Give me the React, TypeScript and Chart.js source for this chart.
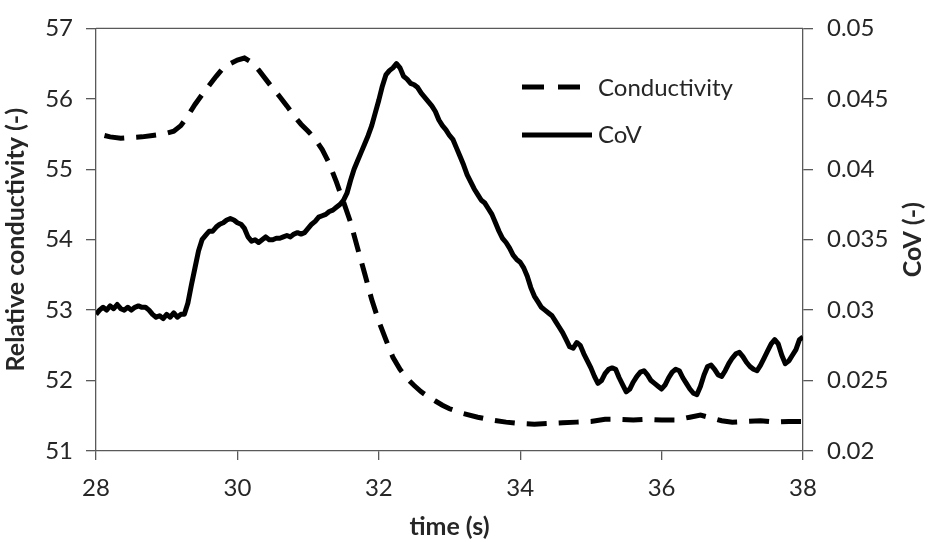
import React, { useEffect, useRef } from 'react';
import { Chart, registerables } from 'chart.js';

Chart.register(...registerables);

const xTicks = [28, 30, 32, 34, 36, 38];
const leftTicks = [51, 52, 53, 54, 55, 56, 57];
const rightTicks = [0.02, 0.025, 0.03, 0.035, 0.04, 0.045, 0.05];
const seriesNames = ['Conductivity', 'CoV'];

const condTime = [
  28.12, 28.2, 28.35, 28.5, 28.65, 28.8, 28.95, 29.1, 29.2, 29.3, 29.4, 29.5, 29.6, 29.7, 29.8, 29.9,
  30.0, 30.1, 30.2, 30.3, 30.4, 30.5, 30.6, 30.7, 30.8, 30.9, 31.0, 31.1, 31.2, 31.3, 31.4, 31.5,
  31.6, 31.7, 31.8, 31.9, 32.0, 32.1, 32.2, 32.3, 32.4, 32.5, 32.6, 32.7, 32.8, 32.9, 33.0, 33.2,
  33.4, 33.6, 33.8, 34.0, 34.2, 34.4, 34.6, 34.8, 35.0, 35.2, 35.4, 35.6, 35.8, 36.0, 36.2, 36.4,
  36.55, 36.7, 36.85, 37.0, 37.2, 37.4, 37.6, 37.8, 38.0,
];
const condValues = [
  55.48, 55.46, 55.44, 55.45, 55.46, 55.48, 55.5, 55.54, 55.62, 55.76, 55.92, 56.06, 56.19, 56.32, 56.44, 56.5,
  56.55, 56.58, 56.52, 56.41, 56.28, 56.15, 56.03, 55.9, 55.76, 55.64, 55.54, 55.43, 55.28, 55.08, 54.82, 54.54,
  54.25, 53.88, 53.52, 53.15, 52.84, 52.58, 52.33, 52.16, 52.03, 51.93, 51.84, 51.77, 51.71, 51.65, 51.6, 51.53,
  51.48, 51.44, 51.41, 51.39, 51.38, 51.39, 51.4, 51.41, 51.42, 51.45, 51.45, 51.44, 51.45, 51.44, 51.44, 51.48,
  51.51, 51.47, 51.43, 51.41, 51.42, 51.43, 51.41, 51.42, 51.42,
];

const covTime = [
  28.0, 28.05, 28.1, 28.15, 28.2, 28.25, 28.3, 28.35, 28.4, 28.45, 28.5, 28.55, 28.6, 28.65, 28.7, 28.75,
  28.8, 28.85, 28.9, 28.95, 29.0, 29.05, 29.1, 29.15, 29.2, 29.25, 29.3, 29.35, 29.4, 29.45, 29.5, 29.55,
  29.6, 29.65, 29.7, 29.75, 29.8, 29.85, 29.9, 29.95, 30.0, 30.05, 30.1, 30.15, 30.2, 30.25, 30.3, 30.35,
  30.4, 30.45, 30.5, 30.55, 30.6, 30.65, 30.7, 30.75, 30.8, 30.85, 30.9, 30.95, 31.0, 31.05, 31.1, 31.15,
  31.2, 31.25, 31.3, 31.35, 31.4, 31.45, 31.5, 31.55, 31.6, 31.65, 31.7, 31.75, 31.8, 31.85, 31.9, 31.95,
  32.0, 32.05, 32.1, 32.15, 32.2, 32.25, 32.3, 32.35, 32.4, 32.45, 32.5, 32.55, 32.6, 32.65, 32.7, 32.75,
  32.8, 32.85, 32.9, 32.95, 33.0, 33.05, 33.1, 33.15, 33.2, 33.25, 33.3, 33.35, 33.4, 33.45, 33.5, 33.55,
  33.6, 33.65, 33.7, 33.75, 33.8, 33.85, 33.9, 33.95, 34.0, 34.05, 34.1, 34.15, 34.2, 34.25, 34.3, 34.35,
  34.4, 34.45, 34.5, 34.55, 34.6, 34.65, 34.7, 34.75, 34.8, 34.85, 34.9, 34.95, 35.0, 35.05, 35.1, 35.15,
  35.2, 35.25, 35.3, 35.35, 35.4, 35.45, 35.5, 35.55, 35.6, 35.65, 35.7, 35.75, 35.8, 35.85, 35.9, 35.95,
  36.0, 36.05, 36.1, 36.15, 36.2, 36.25, 36.3, 36.35, 36.4, 36.45, 36.5, 36.55, 36.6, 36.65, 36.7, 36.75,
  36.8, 36.85, 36.9, 36.95, 37.0, 37.05, 37.1, 37.15, 37.2, 37.25, 37.3, 37.35, 37.4, 37.45, 37.5, 37.55,
  37.6, 37.65, 37.7, 37.75, 37.8, 37.85, 37.9, 37.95, 38.0,
];
const covValues = [
  0.0297, 0.03, 0.0302, 0.03, 0.0303, 0.0301, 0.0304, 0.0301, 0.03, 0.0302, 0.03, 0.0302, 0.0303, 0.0302, 0.0302, 0.03,
  0.0297, 0.0295, 0.0296, 0.0294, 0.0297, 0.0295, 0.0298, 0.0295, 0.0297, 0.0297, 0.0305, 0.0318, 0.033, 0.0342, 0.035, 0.0353,
  0.0356, 0.0356, 0.0359, 0.0361, 0.0362, 0.0364, 0.0365, 0.0364, 0.0362, 0.0361, 0.0358, 0.0352, 0.0349, 0.035, 0.0348, 0.035,
  0.0352, 0.035, 0.035, 0.0351, 0.0351, 0.0352, 0.0353, 0.0352, 0.0354, 0.0355, 0.0354, 0.0355, 0.0358, 0.0361, 0.0363, 0.0366,
  0.0367, 0.0368, 0.037, 0.0371, 0.0373, 0.0375, 0.0378, 0.0383, 0.0392, 0.04, 0.0406, 0.0412, 0.0418, 0.0424, 0.0431, 0.044,
  0.0449, 0.0459, 0.0467, 0.047, 0.0472, 0.0475, 0.0472, 0.0466, 0.0464, 0.0461, 0.046, 0.0458, 0.0454, 0.0451, 0.0448, 0.0445,
  0.0441, 0.0435, 0.0431, 0.0428, 0.0424, 0.0421, 0.0415, 0.0409, 0.0403, 0.0396, 0.0391, 0.0386, 0.0382, 0.0378, 0.0376, 0.0372,
  0.0368, 0.0362, 0.0356, 0.0351, 0.0348, 0.0344, 0.0339, 0.0336, 0.0334, 0.033, 0.0324, 0.0316, 0.031, 0.0306, 0.0302, 0.03,
  0.0298, 0.0296, 0.0292, 0.0288, 0.0284, 0.0279, 0.0274, 0.0273, 0.0277, 0.0275, 0.0269, 0.0264, 0.0259, 0.0253, 0.0248, 0.025,
  0.0255, 0.0258, 0.0259, 0.0258, 0.0252, 0.0247, 0.0242, 0.0244, 0.0249, 0.0253, 0.0256, 0.0257, 0.0254, 0.025, 0.0248, 0.0246,
  0.0244, 0.0247, 0.0252, 0.0256, 0.0258, 0.0257, 0.0252, 0.0248, 0.0244, 0.0241, 0.024, 0.0246, 0.0254, 0.026, 0.0261, 0.0258,
  0.0254, 0.0253, 0.0257, 0.0262, 0.0266, 0.0269, 0.027, 0.0267, 0.0263, 0.026, 0.0258, 0.0257, 0.0261, 0.0266, 0.0271, 0.0276,
  0.0279, 0.0276, 0.0268, 0.0262, 0.0264, 0.0268, 0.0272, 0.0279, 0.0281,
];

const FONT = 'Lato, "Open Sans", sans-serif';
const AXIS = '#595959';
const TEXT = '#262626';
const DASH = [20, 12];
const TICK_SIZE = 24;
const TITLE_SIZE = 25;

const framePlugin = {
  id: 'frame',
  afterDraw(chart: any) {
    const { ctx, chartArea } = chart;
    ctx.save();
    ctx.strokeStyle = AXIS;
    ctx.lineWidth = 1.3;
    ctx.beginPath();
    ctx.moveTo(chartArea.left, chartArea.top);
    ctx.lineTo(chartArea.right, chartArea.top);
    ctx.stroke();

    // right axis title, reading bottom-to-top
    ctx.fillStyle = TEXT;
    ctx.font = `bold ${TITLE_SIZE}px ${FONT}`;
    ctx.textAlign = 'center';
    ctx.textBaseline = 'middle';
    ctx.translate(913, (chartArea.top + chartArea.bottom) / 2);
    ctx.rotate(-Math.PI / 2);
    ctx.fillText('CoV (-)', 0, 0);
    ctx.restore();

    // legend
    ctx.save();
    ctx.strokeStyle = '#000';
    ctx.lineWidth = 5;
    ctx.lineCap = 'butt';
    ctx.setLineDash([22, 14]);
    ctx.beginPath();
    ctx.moveTo(522, 87);
    ctx.lineTo(580, 87);
    ctx.stroke();
    ctx.setLineDash([]);
    ctx.beginPath();
    ctx.moveTo(522, 135);
    ctx.lineTo(592, 135);
    ctx.stroke();
    ctx.fillStyle = TEXT;
    ctx.font = `${TICK_SIZE}px ${FONT}`;
    ctx.textAlign = 'left';
    ctx.textBaseline = 'middle';
    ctx.fillText(seriesNames[0], 598, 88);
    ctx.fillText(seriesNames[1], 598, 135);
    ctx.restore();
  },
};

export default function App() {
  const ref = useRef<HTMLCanvasElement>(null);
  useEffect(() => {
    document.body.style.margin = '0';
    const chart = new Chart(ref.current as HTMLCanvasElement, {
      type: 'line',
      data: {
        datasets: [
          {
            label: seriesNames[0],
            data: condTime.map((t, i) => ({ x: t, y: condValues[i] })),
            yAxisID: 'y',
            borderColor: '#000',
            borderWidth: 5,
            borderDash: DASH,
            pointRadius: 0,
            tension: 0,
            fill: false,
          },
          {
            label: seriesNames[1],
            data: covTime.map((t, i) => ({ x: t, y: covValues[i] })),
            yAxisID: 'y1',
            borderColor: '#000',
            borderWidth: 5,
            pointRadius: 0,
            tension: 0,
            fill: false,
            borderJoinStyle: 'round',
          },
        ],
      },
      options: {
        animation: false,
        responsive: false,
        layout: { padding: { top: 19, left: 0, right: 0, bottom: 0 } },
        plugins: { legend: { display: false }, tooltip: { enabled: false } },
        scales: {
          x: {
            type: 'linear',
            min: 28,
            max: 38,
            afterBuildTicks: (s: any) => {
              s.ticks = xTicks.map((v) => ({ value: v }));
            },
            afterFit: (s: any) => {
              s.height = 91;
            },
            grid: { drawOnChartArea: false, tickLength: 9, color: AXIS, lineWidth: 1.3 },
            border: { color: AXIS, width: 1.3 },
            ticks: { font: { family: FONT, size: TICK_SIZE }, color: TEXT, padding: 14, maxRotation: 0 },
            title: {
              display: true,
              text: 'time (s)',
              font: { family: FONT, size: TITLE_SIZE, weight: 'bold' },
              color: TEXT,
              padding: { top: 0, bottom: 0 },
            },
          },
          y: {
            type: 'linear',
            position: 'left',
            min: 51,
            max: 57,
            afterBuildTicks: (s: any) => {
              s.ticks = leftTicks.map((v) => ({ value: v }));
            },
            afterFit: (s: any) => {
              s.width = 96;
            },
            grid: { drawOnChartArea: false, tickLength: 10, color: AXIS, lineWidth: 1.3 },
            border: { color: AXIS, width: 1.3 },
            ticks: { font: { family: FONT, size: TICK_SIZE }, color: TEXT, padding: 13 },
            title: {
              display: true,
              text: 'Relative conductivity (-)',
              font: { family: FONT, size: TITLE_SIZE, weight: 'bold' },
              color: TEXT,
              padding: { top: 1, bottom: 0 },
            },
          },
          y1: {
            type: 'linear',
            position: 'right',
            min: 0.02,
            max: 0.05,
            afterBuildTicks: (s: any) => {
              s.ticks = rightTicks.map((v) => ({ value: v }));
            },
            afterFit: (s: any) => {
              s.width = 126;
            },
            grid: { drawOnChartArea: false, tickLength: 10, color: AXIS, lineWidth: 1.3 },
            border: { color: AXIS, width: 1.3 },
            ticks: {
              font: { family: FONT, size: TICK_SIZE },
              color: TEXT,
              padding: 14,
              callback: (v: any) => String(Number(Number(v).toFixed(3))),
            },
          },
        },
      },
      plugins: [framePlugin],
    });
    return () => chart.destroy();
  }, []);
  return (
    <div style={{ width: 929, height: 542, background: '#fff' }}>
      <canvas ref={ref} width={929} height={542} style={{ display: 'block' }} />
    </div>
  );
}
